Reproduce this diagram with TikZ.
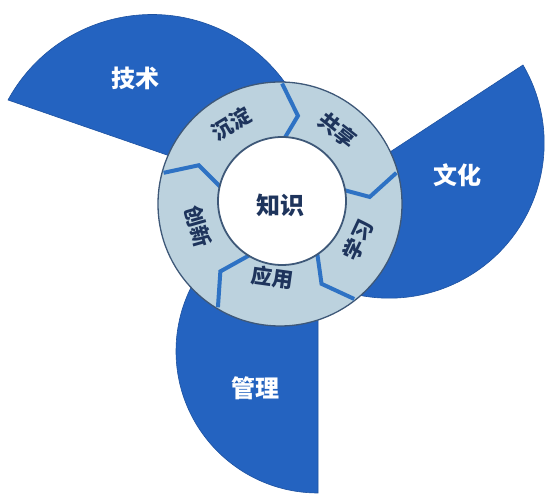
\documentclass[tikz,border=0pt]{standalone}
\usepackage{fontspec}
\newfontfamily\cjk{Noto Sans CJK SC}
\usetikzlibrary{positioning}
\definecolor{bladeblue}{RGB}{36,99,192}
\definecolor{bladeedge}{RGB}{30,82,160}
\definecolor{ringfill}{RGB}{188,210,222}
\definecolor{ringline}{RGB}{62,88,120}
\definecolor{divblue}{RGB}{46,114,196}
\definecolor{labelnavy}{RGB}{30,52,92}

\begin{document}
\begin{tikzpicture}[
    x=1pt, y=1pt,
    blade/.style={fill=bladeblue, draw=bladeedge, line width=0.6pt},
    bladetext/.style={text=white, font={\cjk\bfseries\fontsize{24}{28}\selectfont}},
    ring/.style={circle, minimum size=244pt, fill=ringfill, draw=ringline, line width=1.3pt},
    hub/.style={circle, minimum size=128pt, fill=white, draw=ringline, line width=1.8pt},
    hubtext/.style={text=labelnavy, font={\cjk\bfseries\fontsize{24}{28}\selectfont}},
    divider/.style={draw=divblue, line width=4pt, line join=miter},
    steplabel/.style={text=labelnavy, inner sep=1pt, font={\cjk\bfseries\fontsize{21}{24}\selectfont}}
]
\useasboundingbox (0,0) rectangle (550,-497);

% three blades
\filldraw[blade] (250,-183.7) -- (8,-100) arc[start angle=151.4, end angle=20, radius=164] -- cycle;
\filldraw[blade] (360,-171.6) -- (523,-65) arc[start angle=30.3, end angle=-115, radius=155] -- cycle;
\filldraw[blade] (318,-250) -- (318,-493) arc[start angle=270, end angle=115, radius=142] -- cycle;

\node[bladetext] (jishu) at (135,-78) {技术};
\node[bladetext] (wenhua) at (457,-175) {文化};
\node[bladetext] (guanli) at (255,-388) {管理};

% ring of five steps
\node[ring] (ring) at (280,-204) {};
\foreach \a in {89,15,-52,-121,165}
    \draw[divider] ([shift={(\a:120.5)}]ring.center) -- ([shift={(\a-10.5:90)}]ring.center) -- ([shift={(\a:60)}]ring.center);
\node[hub] (hub) at (282,-201) {};
\node[hubtext] (zhishi) at (280,-205) {知识};

\node[steplabel, rotate=31] (chendian) at ([shift={(121:94)}]ring.center) {沉淀};
\node[steplabel, rotate=-38] (gongxiang) at ([shift={(52:94)}]ring.center) {共享};
\node[steplabel, rotate=65] (xuexi) at ([shift={(-25:86)}]ring.center) {学习};
\node[steplabel, rotate=-8] (yingyong) at ([shift={(-96:74)}]ring.center) {应用};
\node[steplabel, rotate=-74] (chuangxin) at ([shift={(195:85)}]ring.center) {创新};
\end{tikzpicture}
\end{document}
